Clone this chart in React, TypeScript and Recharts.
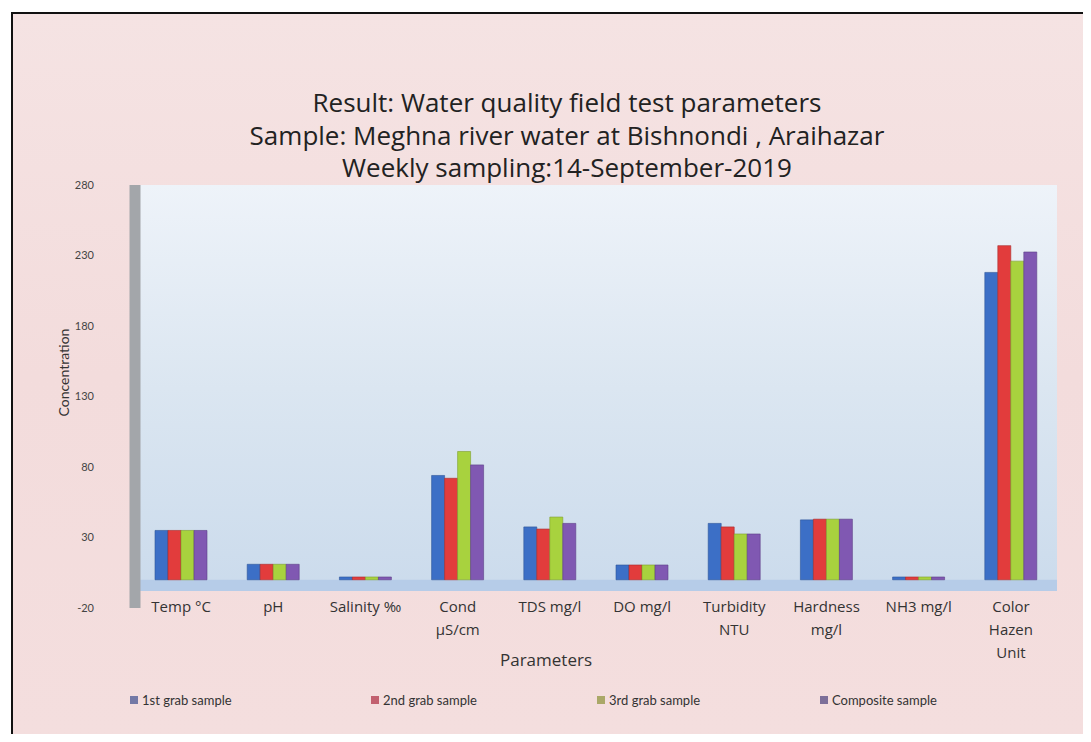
import React from "react";
import { BarChart, Bar, XAxis, YAxis, Legend, ReferenceArea } from "recharts";

const parameters = [
  "Temp °C",
  "pH",
  "Salinity ‰",
  "Cond\nµS/cm",
  "TDS mg/l",
  "DO mg/l",
  "Turbidity\nNTU",
  "Hardness\nmg/l",
  "NH3 mg/l",
  "Color\nHazen\nUnit",
];

const grab1 = [35, 11, 2, 74, 37.5, 10.5, 40, 42.5, 2, 218];
const grab2 = [35, 11, 2, 72, 36, 10.5, 37.5, 43, 2, 237];
const grab3 = [35, 11, 2, 91, 44.5, 10.5, 32.5, 43, 2, 226];
const composite = [35, 11, 2, 81.5, 40, 10.5, 32.5, 43, 2, 232.5];

const yTicks = [-20, 30, 80, 130, 180, 230, 280];

const titleLines = [
  "Result: Water quality field test parameters",
  "Sample: Meghna river water at Bishnondi , Araihazar",
  "Weekly sampling:14-September-2019",
];

const seriesNames = ["1st grab sample", "2nd grab sample", "3rd grab sample", "Composite sample"];
const barColors = ["#3c6fc6", "#e23c3c", "#a8d23e", "#8058b2"];
const legendColors = ["#7479a6", "#c2606f", "#aaa868", "#7d6f99"];

const data = parameters.map((name, i) => ({
  name,
  g1: grab1[i],
  g2: grab2[i],
  g3: grab3[i],
  comp: composite[i],
}));

const FONT = "Lato, 'Open Sans', sans-serif";
const WIDE = "'Open Sans', Lato, sans-serif";

const XTick = ({ x, y, payload }: any) => {
  const lines = String(payload.value).split("\n");
  return (
    <text x={x} y={y + 4} textAnchor="middle" fontSize={15} fill="#333" fontFamily={WIDE}>
      {lines.map((l, i) => (
        <tspan key={i} x={x} dy={i === 0 ? 0 : 23}>
          {l}
        </tspan>
      ))}
    </text>
  );
};

const XTitle = ({ viewBox }: any) => {
  const cx = viewBox.x + viewBox.width / 2 - 50;
  return (
    <text x={cx} y={viewBox.y + 58} textAnchor="middle" fontSize={17} fill="#333" fontFamily={WIDE}>
      Parameters
    </text>
  );
};

const YTitle = ({ viewBox }: any) => {
  const x = viewBox.x + 14;
  const y = viewBox.y + viewBox.height / 2 - 24;
  return (
    <text
      x={x}
      y={y}
      transform={`rotate(-90, ${x}, ${y})`}
      textAnchor="middle"
      fontSize={14}
      fill="#333"
      fontFamily={FONT}
    >
      Concentration
    </text>
  );
};

const legendWidths = [241, 226, 223, 200];

const renderLegend = () => (
  <div style={{ display: "flex", fontFamily: FONT, fontSize: 13, color: "#333" }}>
    {seriesNames.map((n, i) => (
      <div key={n} style={{ width: legendWidths[i], display: "flex", alignItems: "center" }}>
        <span
          style={{ width: 8, height: 8, background: legendColors[i], display: "inline-block", marginRight: 4 }}
        />
        {n}
      </div>
    ))}
  </div>
);

export default function App() {
  return (
    <div style={{ position: "relative", width: 1083, height: 726 }}>
      <div
        style={{
          position: "absolute",
          left: 3,
          top: 4,
          width: 1078,
          height: 722,
          borderTop: "2px solid #111",
          borderLeft: "2px solid #111",
          background: "linear-gradient(180deg, #f5e3e3 0%, #f3dcdc 50%, #f4dede 100%)",
        }}
      >
        <div
          style={{
            position: "absolute",
            left: 0,
            top: 72,
            width: 1108,
            textAlign: "center",
            fontFamily: WIDE,
            fontSize: 26,
            lineHeight: "32.5px",
            color: "#222",
          }}
        >
          {titleLines.map((t) => (
            <div key={t}>{t}</div>
          ))}
        </div>
        <div style={{ position: "absolute", left: 0, top: 0 }}>
          <BarChart
            width={1070}
            height={715}
            data={data}
            margin={{ top: 171, right: 26, bottom: 61, left: 42 }}
            barSize={13}
            barGap={0}
          >
            <defs>
              <linearGradient id="wall" x1="0" y1="0" x2="0" y2="1">
                <stop offset="0%" stopColor="#eef3f9" />
                <stop offset="50%" stopColor="#dbe6f1" />
                <stop offset="100%" stopColor="#cbdbec" />
              </linearGradient>
            </defs>
            <ReferenceArea y1={-8} y2={280} fill="url(#wall)" fillOpacity={1} stroke="none" />
            <ReferenceArea y1={-8} y2={0} fill="#b6cce8" fillOpacity={1} stroke="none" />
            <XAxis
              dataKey="name"
              axisLine={false}
              tickLine={false}
              tickSize={0}
              tickMargin={0}
              interval={0}
              height={60}
              tick={<XTick />}
              label={{ content: XTitle }}
            />
            <YAxis
              domain={[-20, 280]}
              ticks={yTicks}
              width={80}
              tickSize={0}
              tickMargin={41}
              tickLine={false}
              axisLine={{ stroke: "#a3a6aa", strokeWidth: 11 }}
              tick={{ fontSize: 11, fill: "#444", fontFamily: FONT }}
              label={{ content: YTitle }}
            />
            <Legend
              verticalAlign="middle"
              align="center"
              content={renderLegend}
              wrapperStyle={{ left: 117, top: 678, width: 920 }}
            />
            <Bar dataKey="g1" name={seriesNames[0]} fill={barColors[0]} stroke="#2d5599" strokeWidth={0.6} isAnimationActive={false} />
            <Bar dataKey="g2" name={seriesNames[1]} fill={barColors[1]} stroke="#a82a2a" strokeWidth={0.6} isAnimationActive={false} />
            <Bar dataKey="g3" name={seriesNames[2]} fill={barColors[2]} stroke="#7e9e2c" strokeWidth={0.6} isAnimationActive={false} />
            <Bar dataKey="comp" name={seriesNames[3]} fill={barColors[3]} stroke="#5c3f86" strokeWidth={0.6} isAnimationActive={false} />
          </BarChart>
        </div>
      </div>
    </div>
  );
}
